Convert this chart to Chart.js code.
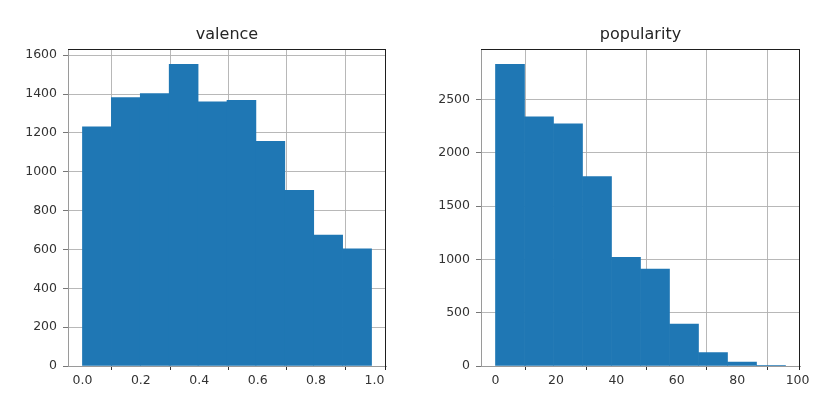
<!DOCTYPE html>
<html>
<head>
<meta charset="utf-8">
<script src="https://cdn.jsdelivr.net/npm/chart.js@4.4.0/dist/chart.umd.min.js"></script>
<style>
  html, body { margin: 0; padding: 0; background: #ffffff; }
  #wrap { position: relative; width: 822px; height: 396px; background: #fff; }
  .box { position: absolute; top: 0; width: 411px; height: 396px; }
  #b1 { left: 0; }
  #b2 { left: 411px; }
</style>
</head>
<body>
<div id="wrap">
  <div class="box" id="b1"><canvas id="c1"></canvas></div>
  <div class="box" id="b2"><canvas id="c2"></canvas></div>
</div>
<script>
// ---- Data ----
const valenceTitle = "valence";
const valenceBinStarts = [0.0, 0.099, 0.198, 0.297, 0.396, 0.495, 0.594, 0.693, 0.792, 0.891];
const valenceBinWidth = 0.099;
const valenceCounts = [1231, 1382, 1402, 1553, 1360, 1368, 1157, 905, 674, 603];
const valenceXTicks = [0.0, 0.2, 0.4, 0.6, 0.8, 1.0];
const valenceYTicks = [0, 200, 400, 600, 800, 1000, 1200, 1400, 1600];

const popularityTitle = "popularity";
const popularityBinStarts = [0, 9.6, 19.2, 28.8, 38.4, 48.0, 57.6, 67.2, 76.8, 86.4];
const popularityBinWidth = 9.6;
const popularityCounts = [2831, 2337, 2272, 1778, 1019, 909, 394, 125, 37, 1];
const popularityXTicks = [0, 20, 40, 60, 80, 100];
const popularityYTicks = [0, 500, 1000, 1500, 2000, 2500];

const BAR_COLOR = '#1f77b4';
const FONT = 'DejaVu Sans';

const spinePlugin = {
  id: 'spines',
  afterDraw(chart) {
    const {ctx, chartArea: a} = chart;
    ctx.save();
    ctx.strokeStyle = '#1e1e1e';
    ctx.lineWidth = 1;
    ctx.beginPath();
    const t = Math.round(a.top) + 0.5;
    const r = Math.round(a.right) - 0.5;
    ctx.moveTo(Math.round(a.left), t);
    ctx.lineTo(r + 0.5, t);
    ctx.moveTo(r, t);
    ctx.lineTo(r, Math.round(a.bottom) + 4);
    ctx.stroke();
    ctx.restore();
  }
};

function makeHist(canvasId, title, starts, width, counts, xTicks, yTicks, xRange, yMax, yAxisWidth, padRight, xFmt) {
  const points = starts.map((s, i) => ({x: s + width / 2, y: counts[i]}));
  return new Chart(document.getElementById(canvasId), {
    type: 'bar',
    data: {
      datasets: [{
        data: points,
        backgroundColor: BAR_COLOR,
        borderWidth: 0,
        barPercentage: 1.0,
        categoryPercentage: 1.0
      }]
    },
    options: {
      responsive: true,
      maintainAspectRatio: false,
      animation: false,
      layout: { padding: { left: 0, right: padRight, top: 0, bottom: 0 } },
      plugins: {
        legend: { display: false },
        tooltip: { enabled: false },
        title: {
          display: true,
          text: title,
          fullSize: false,
          color: '#262626',
          font: { family: FONT, size: 16, weight: 'normal' },
          padding: { top: 25, bottom: 5 }
        }
      },
      scales: {
        x: {
          type: 'linear',
          min: xRange[0],
          max: xRange[1],
          offset: false,
          z: 1,
          afterBuildTicks(scale) { scale.ticks = xTicks.map(v => ({value: v})); },
          afterFit(scale) { scale.height = 30; },
          grid: {
            color: 'rgba(176,176,176,0.9)',
            lineWidth: 1,
            drawTicks: true,
            tickLength: 4,
            tickColor: '#333333'
          },
          border: { display: true, color: '#9a9a9a', width: 1 },
          ticks: {
            autoSkip: false,
            maxRotation: 0,
            padding: 3,
            color: '#333333',
            font: { family: FONT, size: 12.5 },
            callback: (v) => xFmt(v)
          }
        },
        y: {
          type: 'linear',
          min: 0,
          max: yMax,
          z: 1,
          afterBuildTicks(scale) { scale.ticks = yTicks.map(v => ({value: v})); },
          afterFit(scale) { scale.width = yAxisWidth; },
          grid: {
            color: 'rgba(176,176,176,0.9)',
            lineWidth: 1,
            drawTicks: true,
            tickLength: 5,
            tickColor: '#777777'
          },
          border: { display: true, color: '#9a9a9a', width: 1 },
          ticks: {
            autoSkip: false,
            padding: 6,
            color: '#333333',
            font: { family: FONT, size: 12.5 },
            callback: (v) => String(v)
          }
        }
      }
    },
    plugins: [spinePlugin]
  });
}

makeHist('c1', valenceTitle, valenceBinStarts, valenceBinWidth, valenceCounts,
  valenceXTicks, valenceYTicks, [-0.0495, 1.0395], 1631, 68, 25, (v) => v.toFixed(1));
makeHist('c2', popularityTitle, popularityBinStarts, popularityBinWidth, popularityCounts,
  popularityXTicks, popularityYTicks, [-4.8, 100.8], 2972, 70, 22, (v) => String(Math.round(v)));
</script>
</body>
</html>
